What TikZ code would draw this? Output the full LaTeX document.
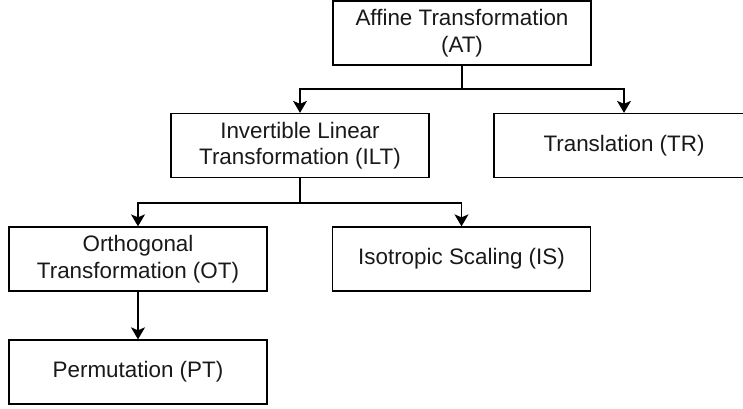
\documentclass[tikz,border=0pt]{standalone}
\usepackage{fontspec}
\setmainfont{Liberation Sans}
\usetikzlibrary{arrows.meta}
\begin{document}
\begin{tikzpicture}[x=1pt,y=-1pt,
  box/.style={draw, line width=1.3pt, minimum width=258pt, minimum height=64pt,
    inner sep=0pt, align=center, text=black!90,
    font=\fontsize{22.4}{26.5}\selectfont},
  conn/.style={line width=1.3pt, -{Stealth[length=12pt,width=14pt,inset=3pt]}}]
\useasboundingbox (0,0) rectangle (743,408);
\clip (0,0) rectangle (743,408);
\node[box] (at)  at (462,33)    {Affine Transformation\\(AT)};
\node[box] (ilt) at (300,145.5) {Invertible Linear\\Transformation (ILT)};
\node[box, minimum width=260pt] (tr) at (624,145.5) {Translation (TR)};
\node[box] (ot)  at (138,259)   {Orthogonal\\Transformation (OT)};
\node[box] (is)  at (461.5,259) {Isotropic Scaling (IS)};
\node[box] (pt)  at (138,372)   {Permutation (PT)};
\coordinate (j1) at (462,89);
\coordinate (j2) at (300,203);
\draw[line width=1.3pt] (at.south) -- (j1);
\draw[conn] (j1) -| (ilt.north);
\draw[conn] (j1) -| (tr.north);
\draw[line width=1.3pt] (ilt.south) -- (j2);
\draw[conn] (j2) -| (ot.north);
\draw[conn] (j2) -| (is.north);
\draw[conn, line width=1.8pt] (ot.south) -- (pt.north);
\end{tikzpicture}
\end{document}
